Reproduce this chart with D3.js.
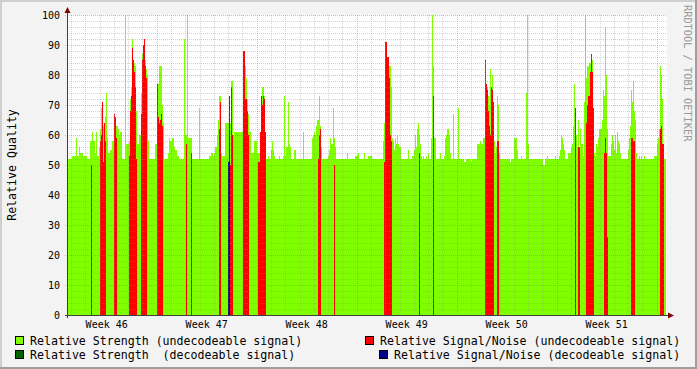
<!DOCTYPE html>
<html>
<head>
<meta charset="utf-8">
<script src="https://cdnjs.cloudflare.com/ajax/libs/d3/7.8.5/d3.min.js"></script>
<style>
  body { margin: 0; background: #f3f3f3; }
  text { font-family: "DejaVu Sans Mono", monospace; }
</style>
</head>
<body>
<div id="chart"></div>
<script>
//first sample time, sample length (100.8 min) and number of samples on the x axis
var startTime = new Date(2008, 10, 10, 17, 18);
var sampleMs = 6048000;
var sampleCount = 600;
var lastSample = 599;

//relative strength (undecodeable signal) as [first sample, value] runs
var strengthRuns = [
  [0,52],[5,53],[9,59],[10,53],[12,56],[13,54],[16,53],[20,52],[23,58],[25,61],[26,58],[28,54],[29,61],[30,53],
  [32,56],[33,62],[34,69],[35,71],[36,63],[37,64],[38,66],[39,74],[40,59],[41,54],[43,55],[45,58],[47,67],[48,66],
  [49,63],[51,62],[52,60],[53,61],[55,52],[58,100],[59,57],[62,58],[63,72],[64,76],[65,92],[66,85],[67,84],[68,83],
  [69,68],[70,57],[72,60],[74,74],[75,87],[76,90],[77,92],[78,85],[79,82],[80,80],[81,58],[82,52],[88,57],[90,77],
  [92,83],[95,70],[96,64],[97,52],[101,54],[102,59],[103,58],[105,59],[107,56],[108,55],[110,53],[112,52],[117,92],
  [118,60],[120,100],[121,59],[125,52],[132,69],[133,52],[142,53],[144,54],[146,53],[147,54],[148,56],[150,60],
  [151,65],[152,73],[154,54],[155,53],[158,64],[164,78],[166,60],[167,61],[176,88],[178,83],[179,79],[180,72],
  [181,67],[182,61],[184,54],[187,58],[190,54],[193,61],[194,73],[195,76],[197,73],[198,61],[199,52],[201,53],
  [202,52],[204,55],[205,58],[206,55],[207,53],[208,52],[212,53],[213,52],[216,53],[217,73],[218,53],[219,56],
  [221,71],[222,57],[223,56],[224,52],[227,55],[229,52],[236,61],[237,52],[245,59],[246,60],[247,61],[248,60],
  [249,63],[250,65],[252,73],[253,63],[254,56],[255,52],[261,53],[262,55],[263,59],[264,57],[266,69],[267,59],
  [268,56],[269,52],[280,54],[281,52],[288,53],[291,54],[292,52],[297,54],[298,52],[301,53],[305,52],[316,58],
  [317,64],[318,91],[320,86],[322,83],[324,76],[325,59],[326,58],[327,55],[328,59],[329,57],[330,60],[331,57],
  [332,56],[334,52],[341,55],[342,52],[345,53],[347,55],[348,60],[349,56],[350,62],[351,64],[352,60],[353,57],
  [354,53],[355,52],[356,53],[357,52],[359,53],[360,52],[361,54],[362,52],[364,59],[365,100],[366,83],[367,59],
  [369,52],[373,54],[374,52],[377,53],[378,59],[379,60],[380,62],[382,60],[383,54],[384,52],[386,67],[387,52],
  [391,69],[392,52],[397,51],[399,52],[404,51],[405,52],[410,57],[413,58],[414,57],[416,59],[418,85],[419,77],
  [420,76],[421,73],[422,70],[423,82],[424,76],[425,80],[426,71],[427,58],[428,54],[429,56],[430,73],[431,70],
  [432,54],[433,52],[443,51],[444,52],[447,59],[450,55],[451,52],[454,53],[455,52],[459,74],[460,100],[461,57],
  [462,52],[476,50],[478,52],[480,53],[481,52],[488,53],[489,52],[492,53],[493,55],[494,60],[495,59],[496,57],
  [497,55],[498,52],[501,54],[504,56],[505,57],[506,63],[507,77],[508,61],[509,60],[510,56],[511,65],[512,56],
  [513,62],[514,57],[516,53],[517,71],[518,100],[519,79],[520,83],[522,84],[524,87],[525,85],[526,69],[527,54],
  [528,53],[529,57],[530,56],[531,59],[532,62],[535,65],[536,75],[537,73],[538,96],[539,80],[540,62],[541,53],
  [544,57],[545,60],[546,58],[547,55],[548,60],[549,54],[550,61],[551,58],[552,57],[553,54],[554,52],[561,55],
  [562,59],[563,63],[564,75],[565,71],[566,78],[567,68],[568,65],[569,54],[570,52],[572,53],[573,52],[574,53],
  [575,52],[577,53],[578,52],[587,53],[590,57],[591,59],[592,62],[593,83],[594,80],[595,72],[596,57],[597,52]
];

//relative signal/noise (undecodeable signal) as [sample, value]
var snrPoints = [
  [24,50],[33,58],[34,60],[35,71],[36,51],[37,64],[38,58],[47,67],[48,66],[49,59],[62,53],[63,68],[64,73],[65,89],
  [66,85],[67,81],[68,76],[69,52],[74,67],[75,85],[76,90],[77,92],[78,83],[79,79],[90,77],[91,66],[92,64],[93,65],
  [94,67],[95,63],[119,57],[124,54],[152,62],[153,71],[163,50],[164,76],[165,60],[176,88],[177,88],[178,72],
  [179,72],[180,68],[181,60],[191,51],[192,51],[193,61],[194,73],[195,70],[196,73],[197,72],[198,61],[251,52],
  [252,60],[253,62],[267,50],[317,51],[318,91],[319,91],[320,86],[321,86],[322,79],[323,60],[324,58],[352,54],
  [366,73],[418,85],[419,77],[420,75],[421,68],[422,63],[423,60],[424,76],[425,75],[426,71],[430,58],[431,58],
  [508,69],[511,56],[512,56],[519,64],[520,70],[521,73],[522,73],[523,81],[524,87],[525,81],[526,69],[537,54],
  [538,59],[539,54],[540,26],[564,59],[565,59],[566,58],[567,58],[593,62],[594,63],[595,57],[596,57]
];

//relative strength and signal/noise (decodeable signal)
var decStrengthPoints = [[162,73]];
var decSnrPoints = [[161,51],[162,51]];

//y axis ticks
var yTicks = [0, 10, 20, 30, 40, 50, 60, 70, 80, 90, 100];

//legend labels and series colours
var legendLabels = [
  "Relative Strength (undecodeable signal)",
  "Relative Signal/Noise (undecodeable signal)",
  "Relative Strength  (decodeable signal)",
  "Relative Signal/Noise (decodeable signal)"
];
var seriesColors = ["#7fff00", "#ff0000", "#006400", "#00008c"];

//expand [sample, value] runs into one value per sample
function expandRuns(runs, n) {
  var out = [];
  for (var k = 0; k < runs.length; ++k) {
    var end = k + 1 < runs.length ? runs[k + 1][0] : n;
    for (var i = runs[k][0]; i < end; ++i) {
      out.push([i, runs[k][1]]);
    }
  }
  return out;
}

//constructor
function QualityChart(_el) {
  var vis = this;
  vis.el = _el;
  vis.init();
}

//function init
QualityChart.prototype.init = function() {
  var vis = this;
  vis.width = 697;
  vis.height = 369;
  vis.plot = { left: 67, right: 667, top: 15, bottom: 315 };

  vis.svg = d3.select(vis.el).append("svg")
    .attr("width", vis.width)
    .attr("height", vis.height);

  var endTime = new Date(startTime.getTime() + sampleCount * sampleMs);
  vis.x = d3.scaleTime()
    .domain([startTime, endTime])
    .range([vis.plot.left, vis.plot.right]);
  vis.y = d3.scaleLinear()
    .domain([0, 100])
    .range([vis.plot.bottom, vis.plot.top]);

  vis.drawFrame();
  vis.drawSeries(expandRuns(strengthRuns, lastSample), seriesColors[0]);
  vis.drawSeries(snrPoints, seriesColors[1]);
  vis.drawSeries(decStrengthPoints, seriesColors[2]);
  vis.drawSeries(decSnrPoints, seriesColors[3]);
  vis.drawGrid();
  vis.drawAxes();
  vis.drawLegend();
};

//sample index to time
QualityChart.prototype.t = function(i) {
  return new Date(startTime.getTime() + i * sampleMs);
};

//background, shading border and white canvas
QualityChart.prototype.drawFrame = function() {
  var vis = this;
  vis.svg.append("rect")
    .attr("width", vis.width).attr("height", vis.height)
    .style("fill", "#f3f3f3");
  vis.svg.append("rect").attr("x", 0).attr("y", 0).attr("width", vis.width).attr("height", 2).style("fill", "#cfcfcf");
  vis.svg.append("rect").attr("x", 0).attr("y", 0).attr("width", 2).attr("height", vis.height).style("fill", "#cfcfcf");
  vis.svg.append("rect").attr("x", 0).attr("y", vis.height - 2).attr("width", vis.width).attr("height", 2).style("fill", "#9e9e9e");
  vis.svg.append("rect").attr("x", vis.width - 2).attr("y", 0).attr("width", 2).attr("height", vis.height).style("fill", "#9e9e9e");
  vis.svg.append("rect")
    .attr("x", vis.plot.left)
    .attr("y", vis.plot.top)
    .attr("width", vis.plot.right - vis.plot.left)
    .attr("height", vis.plot.bottom - vis.plot.top)
    .style("fill", "#ffffff");
};

//one bar per sample, from 0 up to the value
QualityChart.prototype.drawSeries = function(points, color) {
  var vis = this;
  vis.svg.append("g")
    .attr("shape-rendering", "crispEdges")
    .selectAll("rect")
    .data(points)
    .enter().append("rect")
    .attr("x", function(d) { return vis.x(vis.t(d[0])); })
    .attr("width", function(d) { return vis.x(vis.t(d[0] + 1)) - vis.x(vis.t(d[0])); })
    .attr("y", function(d) { return vis.y(d[1]); })
    .attr("height", function(d) { return vis.y(0) - vis.y(d[1]); })
    .style("fill", color);
};

//dotted grid, drawn over the data like rrdtool does
QualityChart.prototype.drawGrid = function() {
  var vis = this;
  var g = vis.svg.append("g").attr("shape-rendering", "crispEdges");
  var domain = vis.x.domain();
  var minorGrid = "rgba(143,143,143,0.38)";
  var majorGrid = "rgba(222,80,80,0.45)";

  //minor horizontal lines every 2
  var minorY = d3.range(2, 100, 2).filter(function(v) { return v % 10 != 0; });
  g.selectAll(".hminor").data(minorY).enter().append("line")
    .attr("x1", vis.plot.left).attr("x2", vis.plot.right)
    .attr("y1", function(d) { return Math.round(vis.y(d)) + 0.5; })
    .attr("y2", function(d) { return Math.round(vis.y(d)) + 0.5; })
    .style("stroke", minorGrid).style("stroke-dasharray", "1,1");

  //minor vertical lines every day
  var days = d3.timeDay.range(domain[0], domain[1]).filter(function(d) { return d.getDay() != 1; });
  g.selectAll(".vminor").data(days).enter().append("line")
    .attr("x1", function(d) { return Math.round(vis.x(d)) + 0.5; })
    .attr("x2", function(d) { return Math.round(vis.x(d)) + 0.5; })
    .attr("y1", vis.plot.top).attr("y2", vis.plot.bottom + 2)
    .style("stroke", minorGrid).style("stroke-dasharray", "1,1");

  //major horizontal lines every 10
  var majorY = yTicks.filter(function(v) { return v > 0; });
  g.selectAll(".hmajor").data(majorY).enter().append("line")
    .attr("x1", vis.plot.left - 2).attr("x2", vis.plot.right)
    .attr("y1", function(d) { return Math.round(vis.y(d)) + 0.5; })
    .attr("y2", function(d) { return Math.round(vis.y(d)) + 0.5; })
    .style("stroke", majorGrid).style("stroke-dasharray", "1,1");

  //major vertical lines on mondays
  var weeks = d3.timeMonday.range(domain[0], domain[1]);
  g.selectAll(".vmajor").data(weeks).enter().append("line")
    .attr("x1", function(d) { return Math.round(vis.x(d)) + 0.5; })
    .attr("x2", function(d) { return Math.round(vis.x(d)) + 0.5; })
    .attr("y1", vis.plot.top).attr("y2", vis.plot.bottom + 2)
    .style("stroke", majorGrid).style("stroke-dasharray", "1,1");
};

//axes, arrows, tick labels and titles
QualityChart.prototype.drawAxes = function() {
  var vis = this;
  var p = vis.plot;
  var domain = vis.x.domain();

  //x axis and y axis lines
  vis.svg.append("line")
    .attr("x1", p.left - 2).attr("x2", p.right + 4)
    .attr("y1", p.bottom + 0.5).attr("y2", p.bottom + 0.5)
    .style("stroke", "#404040");
  vis.svg.append("line")
    .attr("x1", p.left + 0.5).attr("x2", p.left + 0.5)
    .attr("y1", p.bottom + 3).attr("y2", p.top - 5)
    .style("stroke", "#404040");

  //arrows
  vis.svg.append("path")
    .attr("d", "M" + (p.right + 1) + "," + (p.bottom - 2.5) + "L" + (p.right + 7) + "," + (p.bottom + 0.5) + "L" + (p.right + 1) + "," + (p.bottom + 3.5) + "Z")
    .style("fill", "#800000");
  vis.svg.append("path")
    .attr("d", "M" + (p.left - 2.5) + "," + (p.top - 2) + "L" + (p.left + 0.5) + "," + (p.top - 8) + "L" + (p.left + 3.5) + "," + (p.top - 2) + "Z")
    .style("fill", "#800000");

  //y tick labels
  vis.svg.selectAll(".ylabel").data(yTicks).enter().append("text")
    .text(function(d) { return d; })
    .attr("x", p.left - 7)
    .attr("y", function(d) { return vis.y(d) + 3.6; })
    .style("text-anchor", "end")
    .style("font-size", "10px")
    .style("fill", "#000");

  //week labels in the middle of each week
  var weekFormat = d3.timeFormat("Week %V");
  var weekStarts = d3.timeMonday.range(d3.timeMonday.floor(domain[0]), domain[1]);
  var labels = weekStarts.filter(function(d) {
    var mid = vis.x(d3.timeHour.offset(d, 84));
    return mid > p.left && mid < p.right;
  });
  vis.svg.selectAll(".xlabel").data(labels).enter().append("text")
    .text(function(d) { return weekFormat(d); })
    .attr("x", function(d) { return vis.x(d3.timeHour.offset(d, 84)); })
    .attr("y", 328)
    .style("text-anchor", "middle")
    .style("font-size", "10px")
    .style("fill", "#000");

  //y axis title
  vis.svg.append("text")
    .text("Relative Quality")
    .attr("transform", "translate(15.5," + ((p.top + p.bottom) / 2) + ") rotate(-90)")
    .style("text-anchor", "middle")
    .style("font-size", "11.6px")
    .style("fill", "#000");

  //watermark on the right
  vis.svg.append("text")
    .text("RRDTOOL / TOBI OETIKER")
    .attr("transform", "translate(684,5) rotate(90)")
    .style("font-size", "10.3px")
    .style("fill", "#999999");
};

//legend in two rows
QualityChart.prototype.drawLegend = function() {
  var vis = this;
  var textX = [30, 380, 30, 394];
  var textY = [345, 345, 359, 359];
  for (var i = 0; i < legendLabels.length; ++i) {
    //append colour box
    vis.svg.append("rect")
      .attr("x", textX[i] - 14.5)
      .attr("y", textY[i] - 8.5)
      .attr("width", 8)
      .attr("height", 8)
      .style("fill", seriesColors[i])
      .style("stroke", "#000")
      .style("stroke-width", 1);
    //append label text
    vis.svg.append("text")
      .text(legendLabels[i])
      .attr("x", textX[i])
      .attr("y", textY[i])
      .style("white-space", "pre")
      .style("font-size", "11.6px")
      .style("fill", "#000");
  }
};

new QualityChart("#chart");
</script>
</body>
</html>
